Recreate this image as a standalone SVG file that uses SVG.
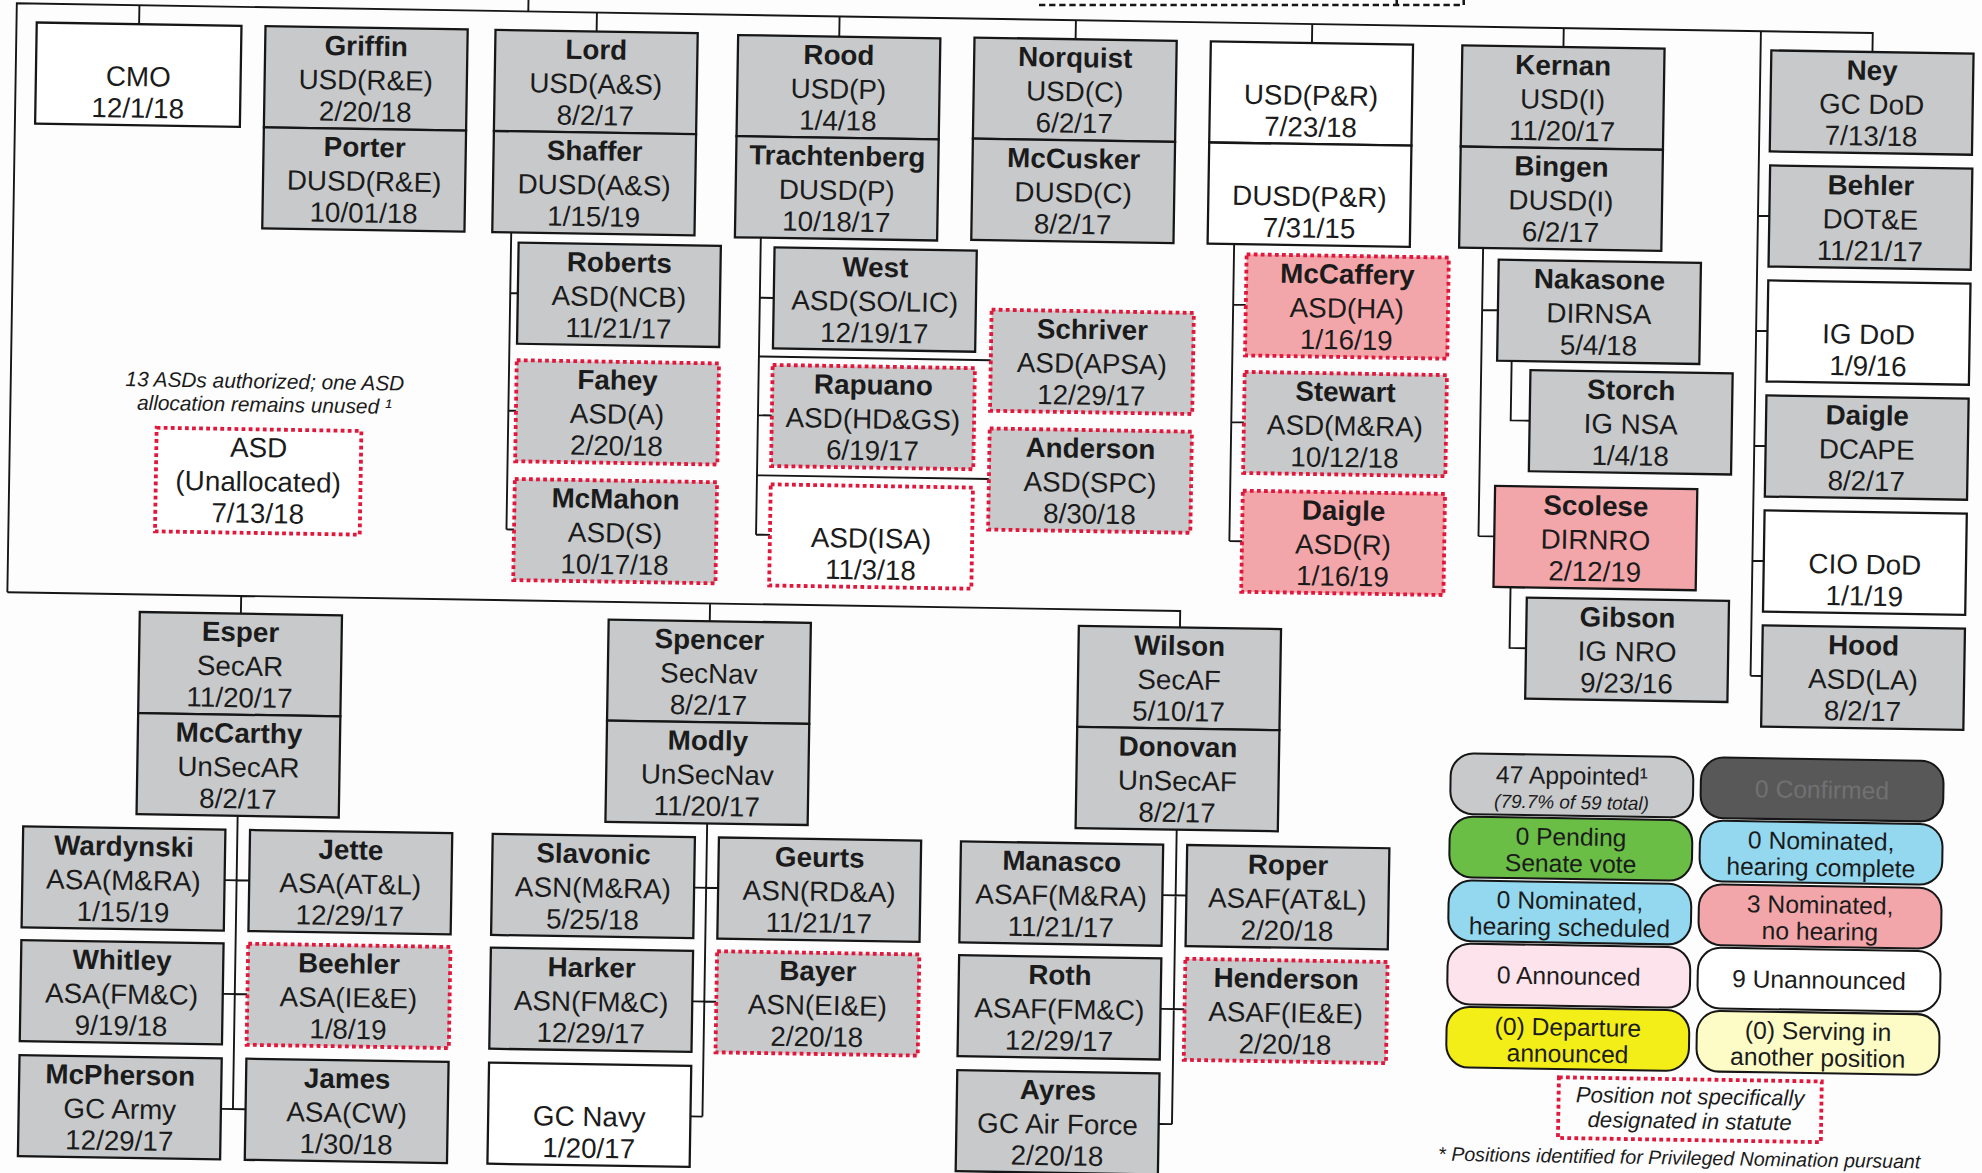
<svg xmlns="http://www.w3.org/2000/svg" width="1982" height="1173" viewBox="0 0 1982 1173">
<style>
.s{stroke:#161616;stroke-width:1.8}
.d{stroke:#e2173c;stroke-width:3;stroke-dasharray:3 2.6}
.gr{fill:#c7c9cb}.pk{fill:#f3a6aa}.wh{fill:#ffffff}
text{font-family:"Liberation Sans",Arial,sans-serif;fill:#1b1b1b;text-anchor:middle}
.n{font-size:22px;font-weight:bold}
.t{font-size:22px}
.i{font-style:italic}
.lg{font-size:19.5px}
#connectors path{stroke:#161616;stroke-width:1.5;fill:none}
.lb{stroke:#161616;stroke-width:1.6}
</style>
<rect x="0" y="0" width="1982" height="1173" fill="#fdfdfd"/>
<g transform="scale(1.264)">
<path d="M822,4 H1158 V-2 M1105,4 V-2" stroke="#161616" stroke-width="2" stroke-dasharray="5 3" fill="none"/>
<g transform="rotate(0.92 784 464)">
<g id="connectors">
<path d="M6,481 V15 H1474.5 V30"/>
<path d="M410.7,15 V-25"/>
<path d="M103,15V30 M465,15V30 M657,15V31 M844,15V30 M1031,15V30 M1230,15V30"/>
<path d="M1386,15 V525 M1386,161H1395 M1386,252H1395 M1386,343H1395 M1386,434H1395 M1386,525H1395"/>
<path d="M6,481 H934 V494 M191,481V495 M562,481V495"/>
<path d="M400,190 V425 M400,238H406 M400,331H406 M400,425H406"/>
<path d="M597.5,190 V426 M597.5,238.5H608.5 M597.5,331.5H608.5 M597.5,426H608.5 M597.5,285H781 M597.5,379H781"/>
<path d="M972,190 V425 M972,238H982 M972,331H982 M972,425H982"/>
<path d="M1169,190 V418 M1169,239H1181.5 M1169,418H1181.5 M1193,279V326H1208 M1195,458V506H1208"/>
<path d="M191,655V887 M181.5,706H201 M181.5,796H201 M181.5,887H201"/>
<path d="M562.5,655V887 M553,706H572 M553,796H572 M553,887H562.5"/>
<path d="M934,654V887 M923.5,706H942.5 M923.5,796H942.5 M923.5,887H934"/>
</g>

<g id="cmo"><rect class="wh s" x="22" y="30" width="162" height="80"/><text class="t" x="103" y="79">CMO</text><text class="t" x="103" y="104">12/1/18</text></g>
<g id="griffin-porter"><rect class="gr s" x="203" y="30" width="160" height="80"/><rect class="gr s" x="203" y="110" width="160" height="80"/><text class="n" x="283" y="52">Griffin</text><text class="t" x="283" y="79">USD(R&amp;E)</text><text class="t" x="283" y="104">2/20/18</text><text class="n" x="283" y="132">Porter</text><text class="t" x="283" y="159">DUSD(R&amp;E)</text><text class="t" x="283" y="184">10/01/18</text></g>
<g id="lord-shaffer"><rect class="gr s" x="385" y="30" width="160" height="80"/><rect class="gr s" x="385" y="110" width="160" height="80"/><text class="n" x="465" y="52">Lord</text><text class="t" x="465" y="79">USD(A&amp;S)</text><text class="t" x="465" y="104">8/2/17</text><text class="n" x="465" y="132">Shaffer</text><text class="t" x="465" y="159">DUSD(A&amp;S)</text><text class="t" x="465" y="184">1/15/19</text></g>
<g id="rood-trachtenberg"><rect class="gr s" x="577" y="31" width="160" height="80"/><rect class="gr s" x="577" y="111" width="160" height="80"/><text class="n" x="657" y="53">Rood</text><text class="t" x="657" y="80">USD(P)</text><text class="t" x="657" y="105">1/4/18</text><text class="n" x="657" y="133">Trachtenberg</text><text class="t" x="657" y="160">DUSD(P)</text><text class="t" x="657" y="185">10/18/17</text></g>
<g id="norquist-mccusker"><rect class="gr s" x="764" y="30" width="160" height="80"/><rect class="gr s" x="764" y="110" width="160" height="80"/><text class="n" x="844" y="52">Norquist</text><text class="t" x="844" y="79">USD(C)</text><text class="t" x="844" y="104">6/2/17</text><text class="n" x="844" y="132">McCusker</text><text class="t" x="844" y="159">DUSD(C)</text><text class="t" x="844" y="184">8/2/17</text></g>
<g id="usd-pr"><rect class="wh s" x="951" y="30" width="160" height="80"/><rect class="wh s" x="951" y="110" width="160" height="80"/><text class="t" x="1031" y="79">USD(P&amp;R)</text><text class="t" x="1031" y="104">7/23/18</text><text class="t" x="1031" y="159">DUSD(P&amp;R)</text><text class="t" x="1031" y="184">7/31/15</text></g>
<g id="kernan-bingen"><rect class="gr s" x="1150" y="30" width="160" height="80"/><rect class="gr s" x="1150" y="110" width="160" height="80"/><text class="n" x="1230" y="52">Kernan</text><text class="t" x="1230" y="79">USD(I)</text><text class="t" x="1230" y="104">11/20/17</text><text class="n" x="1230" y="132">Bingen</text><text class="t" x="1230" y="159">DUSD(I)</text><text class="t" x="1230" y="184">6/2/17</text></g>
<g id="ney"><rect class="gr s" x="1394.5" y="30" width="160" height="80"/><text class="n" x="1474.5" y="52">Ney</text><text class="t" x="1474.5" y="79">GC DoD</text><text class="t" x="1474.5" y="104">7/13/18</text></g>

<g id="behler"><rect class="gr s" x="1395" y="121" width="160" height="80"/><text class="n" x="1475" y="143">Behler</text><text class="t" x="1475" y="170">DOT&amp;E</text><text class="t" x="1475" y="195">11/21/17</text></g>
<g id="ig-dod"><rect class="wh s" x="1395" y="212" width="160" height="80"/><text class="t" x="1475" y="261">IG DoD</text><text class="t" x="1475" y="286">1/9/16</text></g>
<g id="daigle-dcape"><rect class="gr s" x="1395" y="303" width="160" height="80"/><text class="n" x="1475" y="325">Daigle</text><text class="t" x="1475" y="352">DCAPE</text><text class="t" x="1475" y="377">8/2/17</text></g>
<g id="cio-dod"><rect class="wh s" x="1395" y="394" width="160" height="80"/><text class="t" x="1475" y="443">CIO DoD</text><text class="t" x="1475" y="468">1/1/19</text></g>
<g id="hood"><rect class="gr s" x="1395" y="485" width="160" height="80"/><text class="n" x="1475" y="507">Hood</text><text class="t" x="1475" y="534">ASD(LA)</text><text class="t" x="1475" y="559">8/2/17</text></g>

<g id="nakasone"><rect class="gr s" x="1181.5" y="199" width="160" height="80"/><text class="n" x="1261.5" y="221">Nakasone</text><text class="t" x="1261.5" y="248">DIRNSA</text><text class="t" x="1261.5" y="273">5/4/18</text></g>
<g id="storch"><rect class="gr s" x="1208" y="286" width="160" height="80"/><text class="n" x="1288" y="308">Storch</text><text class="t" x="1288" y="335">IG NSA</text><text class="t" x="1288" y="360">1/4/18</text></g>
<g id="scolese"><rect class="pk s" x="1181.5" y="378" width="160" height="80"/><text class="n" x="1261.5" y="400">Scolese</text><text class="t" x="1261.5" y="427">DIRNRO</text><text class="t" x="1261.5" y="452">2/12/19</text></g>
<g id="gibson"><rect class="gr s" x="1208" y="466" width="160" height="80"/><text class="n" x="1288" y="488">Gibson</text><text class="t" x="1288" y="515">IG NRO</text><text class="t" x="1288" y="540">9/23/16</text></g>

<g id="mccaffery"><rect class="pk d" x="982" y="198" width="160" height="80"/><text class="n" x="1062" y="220">McCaffery</text><text class="t" x="1062" y="247">ASD(HA)</text><text class="t" x="1062" y="272">1/16/19</text></g>
<g id="stewart"><rect class="gr d" x="982" y="291" width="160" height="80"/><text class="n" x="1062" y="313">Stewart</text><text class="t" x="1062" y="340">ASD(M&amp;RA)</text><text class="t" x="1062" y="365">10/12/18</text></g>
<g id="daigle-r"><rect class="pk d" x="982" y="385" width="160" height="80"/><text class="n" x="1062" y="407">Daigle</text><text class="t" x="1062" y="434">ASD(R)</text><text class="t" x="1062" y="459">1/16/19</text></g>

<g id="west"><rect class="gr s" x="608.5" y="198.5" width="160" height="80" stroke-width="2.4"/><text class="n" x="688.5" y="220.5">West</text><text class="t" x="688.5" y="247.5">ASD(SO/LIC)</text><text class="t" x="688.5" y="272.5">12/19/17</text></g>
<g id="rapuano"><rect class="gr d" x="608.5" y="291.5" width="160" height="80"/><text class="n" x="688.5" y="313.5">Rapuano</text><text class="t" x="688.5" y="340.5">ASD(HD&amp;GS)</text><text class="t" x="688.5" y="365.5">6/19/17</text></g>
<g id="asd-isa"><rect class="wh d" x="608.5" y="386" width="160" height="80"/><text class="t" x="688.5" y="435">ASD(ISA)</text><text class="t" x="688.5" y="460">11/3/18</text></g>
<g id="schriver"><rect class="gr d" x="781" y="245" width="160" height="80"/><text class="n" x="861" y="267">Schriver</text><text class="t" x="861" y="294">ASD(APSA)</text><text class="t" x="861" y="319">12/29/17</text></g>
<g id="anderson"><rect class="gr d" x="781" y="339" width="160" height="80"/><text class="n" x="861" y="361">Anderson</text><text class="t" x="861" y="388">ASD(SPC)</text><text class="t" x="861" y="413">8/30/18</text></g>

<g id="roberts"><rect class="gr s" x="406" y="198" width="160" height="80"/><text class="n" x="486" y="220">Roberts</text><text class="t" x="486" y="247">ASD(NCB)</text><text class="t" x="486" y="272">11/21/17</text></g>
<g id="fahey"><rect class="gr d" x="406" y="291" width="160" height="80"/><text class="n" x="486" y="313">Fahey</text><text class="t" x="486" y="340">ASD(A)</text><text class="t" x="486" y="365">2/20/18</text></g>
<g id="mcmahon"><rect class="gr d" x="406" y="385" width="160" height="80"/><text class="n" x="486" y="407">McMahon</text><text class="t" x="486" y="434">ASD(S)</text><text class="t" x="486" y="459">10/17/18</text></g>

<g id="asd-unallocated"><text class="i" font-size="16.5" x="207" y="316.5">13 ASDs authorized; one ASD</text><text class="i" font-size="16.5" x="207" y="335">allocation remains unused ¹</text><rect class="wh d" x="122" y="349" width="162" height="82"/><text class="t" x="203" y="371">ASD</text><text class="t" x="203" y="398">(Unallocated)</text><text class="t" x="203" y="423">7/13/18</text></g>

<g id="esper-mccarthy"><rect class="gr s" x="111" y="495" width="160" height="80"/><rect class="gr s" x="111" y="575" width="160" height="80"/><text class="n" x="191" y="517">Esper</text><text class="t" x="191" y="544">SecAR</text><text class="t" x="191" y="569">11/20/17</text><text class="n" x="191" y="597">McCarthy</text><text class="t" x="191" y="624">UnSecAR</text><text class="t" x="191" y="649">8/2/17</text></g>
<g id="wardynski"><rect class="gr s" x="21.5" y="666" width="160" height="80"/><text class="n" x="101.5" y="688">Wardynski</text><text class="t" x="101.5" y="715">ASA(M&amp;RA)</text><text class="t" x="101.5" y="740">1/15/19</text></g>
<g id="jette"><rect class="gr s" x="201" y="666" width="160" height="80"/><text class="n" x="281" y="688">Jette</text><text class="t" x="281" y="715">ASA(AT&amp;L)</text><text class="t" x="281" y="740">12/29/17</text></g>
<g id="whitley"><rect class="gr s" x="21.5" y="756" width="160" height="80"/><text class="n" x="101.5" y="778">Whitley</text><text class="t" x="101.5" y="805">ASA(FM&amp;C)</text><text class="t" x="101.5" y="830">9/19/18</text></g>
<g id="beehler"><rect class="gr d" x="201" y="756" width="160" height="80"/><text class="n" x="281" y="778">Beehler</text><text class="t" x="281" y="805">ASA(IE&amp;E)</text><text class="t" x="281" y="830">1/8/19</text></g>
<g id="mcpherson"><rect class="gr s" x="21.5" y="847" width="160" height="80"/><text class="n" x="101.5" y="869">McPherson</text><text class="t" x="101.5" y="896">GC Army</text><text class="t" x="101.5" y="921">12/29/17</text></g>
<g id="james"><rect class="gr s" x="201" y="847" width="160" height="80"/><text class="n" x="281" y="869">James</text><text class="t" x="281" y="896">ASA(CW)</text><text class="t" x="281" y="921">1/30/18</text></g>

<g id="spencer-modly"><rect class="gr s" x="482" y="495" width="160" height="80"/><rect class="gr s" x="482" y="575" width="160" height="80"/><text class="n" x="562" y="517">Spencer</text><text class="t" x="562" y="544">SecNav</text><text class="t" x="562" y="569">8/2/17</text><text class="n" x="562" y="597">Modly</text><text class="t" x="562" y="624">UnSecNav</text><text class="t" x="562" y="649">11/20/17</text></g>
<g id="slavonic"><rect class="gr s" x="393" y="666" width="160" height="80"/><text class="n" x="473" y="688">Slavonic</text><text class="t" x="473" y="715">ASN(M&amp;RA)</text><text class="t" x="473" y="740">5/25/18</text></g>
<g id="geurts"><rect class="gr s" x="572" y="666" width="160" height="80"/><text class="n" x="652" y="688">Geurts</text><text class="t" x="652" y="715">ASN(RD&amp;A)</text><text class="t" x="652" y="740">11/21/17</text></g>
<g id="harker"><rect class="gr s" x="393" y="756" width="160" height="80"/><text class="n" x="473" y="778">Harker</text><text class="t" x="473" y="805">ASN(FM&amp;C)</text><text class="t" x="473" y="830">12/29/17</text></g>
<g id="bayer"><rect class="gr d" x="572" y="756" width="160" height="80"/><text class="n" x="652" y="778">Bayer</text><text class="t" x="652" y="805">ASN(EI&amp;E)</text><text class="t" x="652" y="830">2/20/18</text></g>
<g id="gc-navy"><rect class="wh s" x="393" y="847" width="160" height="80"/><text class="t" x="473" y="896">GC Navy</text><text class="t" x="473" y="921">1/20/17</text></g>

<g id="wilson-donovan"><rect class="gr s" x="854" y="494" width="160" height="80"/><rect class="gr s" x="854" y="574" width="160" height="80"/><text class="n" x="934" y="516">Wilson</text><text class="t" x="934" y="543">SecAF</text><text class="t" x="934" y="568">5/10/17</text><text class="n" x="934" y="596">Donovan</text><text class="t" x="934" y="623">UnSecAF</text><text class="t" x="934" y="648">8/2/17</text></g>
<g id="manasco"><rect class="gr s" x="763.5" y="666" width="160" height="80"/><text class="n" x="843.5" y="688">Manasco</text><text class="t" x="843.5" y="715">ASAF(M&amp;RA)</text><text class="t" x="843.5" y="740">11/21/17</text></g>
<g id="roper"><rect class="gr s" x="942.5" y="666" width="160" height="80"/><text class="n" x="1022.5" y="688">Roper</text><text class="t" x="1022.5" y="715">ASAF(AT&amp;L)</text><text class="t" x="1022.5" y="740">2/20/18</text></g>
<g id="roth"><rect class="gr s" x="763.5" y="756" width="160" height="80"/><text class="n" x="843.5" y="778">Roth</text><text class="t" x="843.5" y="805">ASAF(FM&amp;C)</text><text class="t" x="843.5" y="830">12/29/17</text></g>
<g id="henderson"><rect class="gr d" x="942.5" y="756" width="160" height="80"/><text class="n" x="1022.5" y="778">Henderson</text><text class="t" x="1022.5" y="805">ASAF(IE&amp;E)</text><text class="t" x="1022.5" y="830">2/20/18</text></g>
<g id="ayres"><rect class="gr s" x="763.5" y="847" width="160" height="80"/><text class="n" x="843.5" y="869">Ayres</text><text class="t" x="843.5" y="896">GC Air Force</text><text class="t" x="843.5" y="921">2/20/18</text></g>

<g id="legend">
<rect class="lb" fill="#c7c9cb" x="1150" y="590" width="192" height="48" rx="18"/>
<text class="lg" x="1246" y="613">47 Appointed¹</text><text class="i" font-size="15" x="1246" y="632.5">(79.7% of 59 total)</text>
<rect class="lb" fill="#585858" x="1348" y="590" width="192" height="48" rx="18"/>
<text class="lg" x="1444" y="621" style="fill:#717171">0 Confirmed</text>
<rect class="lb" fill="#6abd45" x="1150" y="640" width="192" height="48" rx="18"/>
<text class="lg" x="1246" y="661.5">0 Pending</text><text class="lg" x="1246" y="682.5">Senate vote</text>
<rect class="lb" fill="#93d8ef" x="1348" y="640" width="192" height="48" rx="18"/>
<text class="lg" x="1444" y="661.5">0 Nominated,</text><text class="lg" x="1444" y="682.5">hearing complete</text>
<rect class="lb" fill="#93d8ef" x="1150" y="690.5" width="192" height="48" rx="18"/>
<text class="lg" x="1246" y="712">0 Nominated,</text><text class="lg" x="1246" y="733">hearing scheduled</text>
<rect class="lb" fill="#f3a6aa" x="1348" y="690.5" width="192" height="48" rx="18"/>
<text class="lg" x="1444" y="712">3 Nominated,</text><text class="lg" x="1444" y="733">no hearing</text>
<rect class="lb" fill="#fce3ec" x="1150" y="740.5" width="192" height="48" rx="18"/>
<text class="lg" x="1246" y="771.5">0 Announced</text>
<rect class="lb" fill="#ffffff" x="1348" y="740.5" width="192" height="48" rx="18"/>
<text class="lg" x="1444" y="771.5">9 Unannounced</text>
<rect class="lb" fill="#f4ee18" x="1150" y="790.5" width="192" height="48" rx="18"/>
<text class="lg" x="1246" y="812">(0) Departure</text><text class="lg" x="1246" y="833">announced</text>
<rect class="lb" fill="#fdfbc6" x="1348" y="790.5" width="192" height="48" rx="18"/>
<text class="lg" x="1444" y="812">(0) Serving in</text><text class="lg" x="1444" y="833">another position</text>
<rect class="d" fill="none" x="1239.5" y="845" width="208" height="48"/>
<text class="i" font-size="17.5" x="1343.5" y="864.5">Position not specifically</text><text class="i" font-size="17.5" x="1343.5" y="884">designated in statute</text>
<text class="i" font-size="15.5" x="1145" y="912.5" style="text-anchor:start">* Positions identified for Privileged Nomination pursuant</text>
</g>
</g>
</g>
</svg>
